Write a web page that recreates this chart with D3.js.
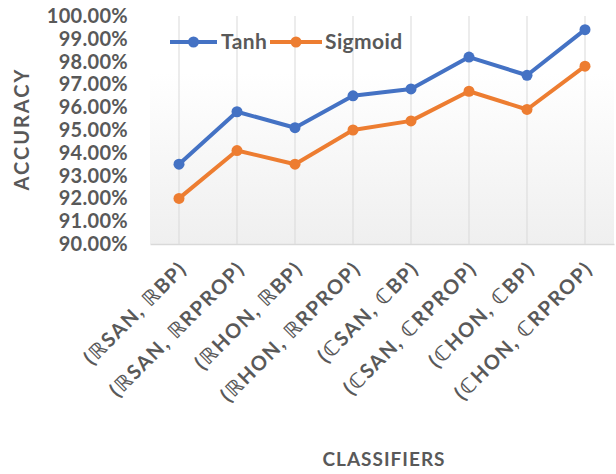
<!DOCTYPE html>
<html>
<head>
<meta charset="utf-8">
<script src="https://cdn.jsdelivr.net/npm/d3@7"></script>
<style>
  html, body { margin: 0; padding: 0; background: #fff; }
  svg { display: block; }
  text { font-family: Lato, "Open Sans", sans-serif; font-weight: bold; fill: #595959; }
</style>
</head>
<body>
<svg id="chart" width="616" height="474"></svg>
<script>
// Classifier pairs on the x axis
const categories = [
  "(ℝSAN, ℝBP)", "(ℝSAN, ℝRPROP)", "(ℝHON, ℝBP)", "(ℝHON, ℝRPROP)",
  "(ℂSAN, ℂBP)", "(ℂSAN, ℂRPROP)", "(ℂHON, ℂBP)", "(ℂHON, ℂRPROP)"
];
// Accuracy (%) per activation function
const tanhValues    = [93.5, 95.8, 95.1, 96.5, 96.8, 98.2, 97.4, 99.4];
const sigmoidValues = [92.0, 94.1, 93.5, 95.0, 95.4, 96.7, 95.9, 97.8];
const yTicks = [90, 91, 92, 93, 94, 95, 96, 97, 98, 99, 100];

const series = [
  { name: "Tanh", values: tanhValues, color: "#4472C4" },
  { name: "Sigmoid", values: sigmoidValues, color: "#ED7D31" }
];

const svg = d3.select("#chart");
const plot = { left: 150, right: 614, top: 16, bottom: 244 };

const x = d3.scaleBand().domain(categories).range([plot.left, plot.right]);
const y = d3.scaleLinear().domain([90, 100]).range([plot.bottom, plot.top]);

// Plot area background: soft vertical gradient
const defs = svg.append("defs");
const grad = defs.append("linearGradient").attr("id", "bg")
  .attr("x1", 0).attr("y1", 0).attr("x2", 0).attr("y2", 1);
grad.append("stop").attr("offset", "0%").attr("stop-color", "#ffffff");
grad.append("stop").attr("offset", "25%").attr("stop-color", "#ffffff");
grad.append("stop").attr("offset", "100%").attr("stop-color", "#efefef");
svg.append("rect")
  .attr("x", plot.left).attr("y", plot.top)
  .attr("width", plot.right - plot.left).attr("height", plot.bottom - plot.top)
  .attr("fill", "url(#bg)");

// Vertical gridlines at each category
svg.append("g").selectAll("line").data(categories).join("line")
  .attr("x1", d => x(d) + x.bandwidth() / 2).attr("x2", d => x(d) + x.bandwidth() / 2)
  .attr("y1", plot.top).attr("y2", plot.bottom)
  .attr("stroke", "#d9d9d9").attr("stroke-width", 1);

// X axis
const xAxis = svg.append("g")
  .attr("transform", `translate(0,${plot.bottom})`)
  .call(d3.axisBottom(x).tickSize(0).tickPadding(0));
xAxis.select(".domain").attr("stroke", "#d9d9d9").attr("stroke-width", 1.5);
xAxis.selectAll(".tick text")
  .attr("font-size", 20)
  .attr("letter-spacing", 1.6)
  .attr("text-anchor", "end")
  .attr("dy", 0)
  .attr("transform", "translate(9,26) rotate(-45)")
  .style("font-family", "Lato, 'DejaVu Sans', sans-serif")
  .style("font-weight", "bold")
  .attr("fill", "#5f5f5f");

// Y axis (labels only)
const yAxis = svg.append("g")
  .attr("transform", `translate(${plot.left},0)`)
  .call(d3.axisLeft(y).tickValues(yTicks).tickSize(0).tickPadding(22)
    .tickFormat(d => d.toFixed(2) + "%"));
yAxis.select(".domain").remove();
yAxis.selectAll(".tick text")
  .attr("font-size", 20)
  .attr("letter-spacing", 0.3)
  .attr("fill", "#595959");

// Series lines and markers
const line = d3.line()
  .x((d, i) => x(categories[i]) + x.bandwidth() / 2)
  .y(d => y(d));
series.forEach(s => {
  svg.append("path").datum(s.values)
    .attr("d", line).attr("fill", "none")
    .attr("stroke", s.color).attr("stroke-width", 4)
    .attr("stroke-linejoin", "round").attr("stroke-linecap", "round");
  svg.append("g").selectAll("circle").data(s.values).join("circle")
    .attr("cx", (d, i) => x(categories[i]) + x.bandwidth() / 2)
    .attr("cy", d => y(d)).attr("r", 5.5).attr("fill", s.color);
});

// Legend
const legendItems = [
  { s: series[0], x0: 170, x1: 217, tx: 221 },
  { s: series[1], x0: 270, x1: 322, tx: 325 }
];
const ly = 42;
legendItems.forEach(it => {
  svg.append("line").attr("x1", it.x0).attr("x2", it.x1)
    .attr("y1", ly).attr("y2", ly)
    .attr("stroke", it.s.color).attr("stroke-width", 4);
  svg.append("circle").attr("cx", (it.x0 + it.x1) / 2).attr("cy", ly)
    .attr("r", 5.5).attr("fill", it.s.color);
  svg.append("text").attr("x", it.tx).attr("y", ly).attr("dy", "0.35em")
    .attr("font-size", 21).attr("letter-spacing", 0.4).text(it.s.name);
});

// Axis titles
svg.append("text")
  .attr("transform", "translate(29,129) rotate(-90)")
  .attr("text-anchor", "middle").attr("font-size", 20)
  .attr("letter-spacing", 2)
  .text("ACCURACY");
svg.append("text")
  .attr("x", 384).attr("y", 466)
  .attr("text-anchor", "middle").attr("font-size", 19)
  .attr("letter-spacing", 1)
  .text("CLASSIFIERS");
</script>
</body>
</html>
